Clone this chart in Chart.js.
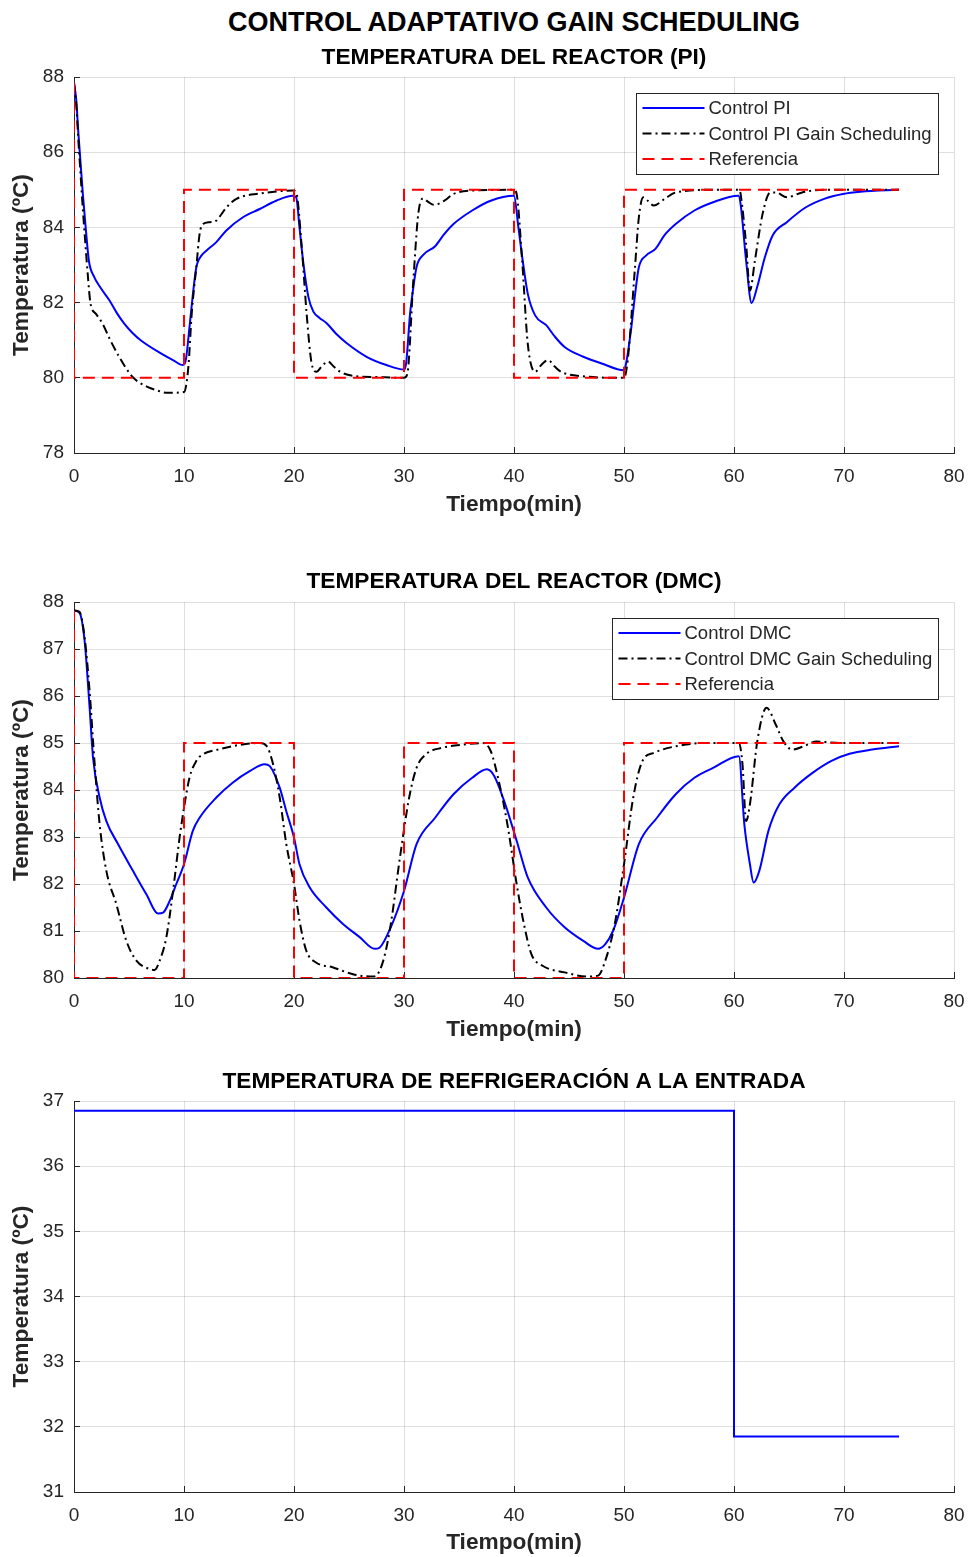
<!DOCTYPE html>
<html><head><meta charset="utf-8">
<script src="https://cdn.jsdelivr.net/npm/chart.js@4"></script>
<style>
html,body{margin:0;padding:0;background:#fff;width:970px;height:1557px;overflow:hidden;position:relative}
canvas{position:absolute;left:0}
#main{position:absolute;left:74px;width:880px;top:8px;text-align:center;font:bold 27px "Liberation Sans",Arial,sans-serif;color:#000;line-height:28px}
</style></head><body>
<div id="main">CONTROL ADAPTATIVO GAIN SCHEDULING</div>
<canvas id="c1" width="970" height="490" style="top:40px"></canvas>
<canvas id="c2" width="970" height="490" style="top:565px"></canvas>
<canvas id="c3" width="970" height="493" style="top:1064px"></canvas>
<script>
const FONT = '"Liberation Sans", Arial, sans-serif';
const xTicks = [0, 10, 20, 30, 40, 50, 60, 70, 80];

// Reference (set point)
const refTime = [0, 0, 10, 10, 20, 20, 30, 30, 40, 40, 50, 50, 75];
const refTemp = [87.85, 80, 80, 85, 85, 80, 80, 85, 85, 80, 80, 85, 85];

// PI control
const piTime = [0,0.2,0.4,0.6,0.8,1.06,1.36,1.82,2.4,3.2,3.9,4.55,5.3,6.06,7.9,9.0,9.9,10.15,10.5,10.8,11.12,11.58,12.03,12.94,13.85,15.36,16.88,18.39,19.9,20.2,20.5,20.85,21.3,21.76,22.3,22.97,23.9,24.8,26.6,28.4,30,30.2,30.55,30.8,31.15,31.75,32.83,33.6,34.5,36.2,37.88,40,40.4,40.8,41.25,41.92,42.93,43.7,44.6,46.3,47.98,50,50.2,50.67,51.0,51.35,52.0,52.86,53.7,54.7,56.4,58.1,60.4,60.6,61.1,61.6,62.1,62.8,63.5,64.8,66.5,68.2,69.9,71.5,75];
const piTemp = [87.85,87.4,86.5,85.7,84.9,84.0,83.1,82.69,82.4,82.07,81.72,81.45,81.2,81.0,80.65,80.47,80.34,80.45,81.35,82.2,82.94,83.25,83.38,83.61,83.92,84.27,84.49,84.71,84.84,84.8,84.0,83.05,82.16,81.76,81.6,81.45,81.15,80.92,80.56,80.34,80.22,80.4,81.7,82.3,82.96,83.27,83.5,83.8,84.09,84.45,84.71,84.84,84.0,83.1,82.24,81.66,81.4,81.1,80.82,80.56,80.38,80.2,80.4,81.35,82.2,82.94,83.25,83.43,83.8,84.09,84.45,84.67,84.84,84.62,83.12,81.99,82.41,83.2,83.78,84.14,84.53,84.76,84.89,84.95,85.0];

// PI gain scheduling
const piGsTime = [0,0.2,0.4,0.6,0.8,1.0,1.25,1.5,2.0,2.58,3.3,4.1,4.7,5.3,5.9,6.67,7.5,8.5,10.0,10.4,10.7,11.12,11.42,11.73,12.33,12.94,13.4,13.85,14.76,16.88,19.9,20.2,20.7,21.15,21.6,22.06,22.5,23.1,23.6,24.2,25.4,27.5,30,30.3,30.85,31.3,31.75,32.2,32.7,33.67,34.5,36.2,40,40.24,40.74,41.25,41.92,42.5,43.1,43.7,44.28,46.3,50,50.34,51.0,51.35,51.75,52.2,52.7,53.7,54.7,58.1,60.5,60.6,61.1,61.45,61.9,62.6,63.3,63.8,64.8,66.2,68.2,75];
const piGsTemp = [87.85,87.3,86.3,85.4,84.5,83.7,82.75,81.98,81.7,81.45,81.0,80.56,80.27,80.03,79.88,79.76,79.67,79.6,79.62,80.3,81.7,82.94,83.83,84.09,84.14,84.18,84.35,84.53,84.76,84.9,84.98,84.93,83.49,81.7,80.39,80.16,80.3,80.43,80.3,80.16,80.05,80.02,80.0,80.1,82.6,84.37,84.77,84.68,84.6,84.71,84.89,84.98,85.0,84.89,83.12,80.91,80.16,80.35,80.47,80.3,80.16,80.04,80.0,80.47,82.94,84.27,84.8,84.7,84.58,84.76,84.93,85.0,85.0,84.89,83.56,82.32,83.12,84.36,84.93,84.93,84.8,84.93,85.0,85.0];

// DMC control
const dmcTime = [0,0.5,0.97,1.42,1.73,2.33,2.94,4.0,5.36,6.58,7.64,8.1,8.7,9.3,10.0,10.8,11.42,12.94,14.45,15.97,17.33,17.8,18.7,19.3,20.0,20.5,21.42,22.94,24.45,25.97,27.33,27.8,28.8,30.0,31.14,32.83,34.5,36.2,37.54,38.2,39.2,40.24,41.25,42.93,44.6,46.3,47.64,48.3,49.0,50.0,51.35,53.0,54.7,56.4,58.1,60.44,60.94,61.45,61.78,62.3,63.13,64.14,65.5,67.17,68.86,70.5,72.56,75];
const dmcTemp = [87.82,87.77,87.16,85.75,84.69,83.84,83.34,82.85,82.28,81.78,81.37,81.39,81.64,82.0,82.42,83.13,83.41,83.84,84.16,84.4,84.55,84.51,84.05,83.55,82.99,82.42,81.93,81.5,81.15,80.87,80.62,80.65,81.08,81.85,82.85,83.41,83.91,84.26,84.44,84.3,83.7,82.92,82.14,81.5,81.08,80.79,80.62,80.72,81.0,81.71,82.85,83.41,83.91,84.26,84.47,84.72,83.27,82.42,82.03,82.28,83.13,83.7,84.05,84.37,84.62,84.77,84.86,84.93];

// DMC gain scheduling
const dmcGsTime = [0,0.5,0.97,1.42,1.88,2.33,2.94,3.85,4.76,5.67,6.88,7.33,7.79,8.39,9.0,9.6,10.0,10.5,11.12,11.73,13.24,15.06,16.88,17.5,18.1,18.7,19.3,20.0,20.5,21.12,22.0,23.5,25.36,27.2,27.6,28.2,28.8,29.63,30.47,31.14,31.99,33.5,35.5,37.2,37.88,38.55,39.4,40.24,40.9,41.58,42.6,44.6,46.6,47.64,48.3,49.16,50.0,50.84,51.68,52.7,54.7,57.4,60.44,60.77,61.1,61.45,62.12,62.96,63.8,64.48,65.32,66.33,67.5,69.87,75];
const dmcGsTemp = [87.82,87.79,87.24,86.1,84.55,83.27,82.28,81.57,80.79,80.37,80.19,80.17,80.37,80.86,81.85,82.99,83.62,84.26,84.62,84.76,84.87,84.96,85.0,84.94,84.55,83.84,82.85,82.0,81.22,80.58,80.33,80.23,80.08,80.03,80.08,80.44,81.15,82.56,83.84,84.47,84.76,84.9,84.97,85.0,84.83,84.26,83.27,82.0,81.15,80.51,80.26,80.12,80.03,80.05,80.37,81.15,82.42,83.84,84.62,84.79,84.93,85.0,85.0,84.55,83.34,83.7,85.04,85.75,85.39,85.04,84.86,84.93,85.03,85.0,85.0];

// Coolant inlet temperature
const coolTime = [0, 60, 60, 75];
const coolTemp = [36.85, 36.85, 31.85, 31.85];

function pts(t, v) { return t.map((x, i) => ({x: x, y: v[i]})); }

const boxLegend = {
  id: 'boxLegend',
  afterDatasetsDraw(chart, args, opts) {
    if (!opts.show) return;
    const ctx = chart.ctx, ca = chart.chartArea;
    const items = chart.data.datasets.filter(d => d.label);
    ctx.save();
    ctx.font = '18.5px ' + FONT;
    const textW = Math.max(...items.map(d => ctx.measureText(d.label).width));
    const padL = 6.5, sample = 62, gap = 4, padR = 6, rowH = 25.5, padT = 15;
    const w = Math.round(padL + sample + gap + textW + padR);
    const h = 2 * padT + rowH * (items.length - 1);
    const x0 = Math.round(ca.right - 16 - w), y0 = Math.round(ca.top + 16);
    ctx.fillStyle = '#fff';
    ctx.fillRect(x0, y0, w, h);
    ctx.strokeStyle = '#262626'; ctx.lineWidth = 1;
    ctx.strokeRect(x0 + 0.5, y0 + 0.5, w, h);
    items.forEach((d, i) => {
      const y = y0 + padT + i * rowH;
      ctx.beginPath();
      ctx.setLineDash(d.borderDash || []);
      ctx.strokeStyle = d.borderColor; ctx.lineWidth = d.borderWidth;
      ctx.moveTo(x0 + padL, y); ctx.lineTo(x0 + padL + sample, y); ctx.stroke();
      ctx.setLineDash([]);
      ctx.fillStyle = '#262626'; ctx.textBaseline = 'middle'; ctx.textAlign = 'left';
      ctx.fillText(d.label, x0 + padL + sample + gap, y + 1);
    });
    ctx.restore();
  }
};

const GRID = 'rgba(38,38,38,0.15)';

function makeChart(id, cfg) {
  new Chart(document.getElementById(id), {
    type: 'line',
    data: { datasets: cfg.datasets },
    plugins: [boxLegend],
    options: {
      responsive: false, animation: false, devicePixelRatio: 1,
      layout: { padding: { left: 0, right: 16, top: 0, bottom: 0 } },
      elements: { point: { radius: 0 } },
      plugins: {
        legend: { display: false },
        tooltip: { enabled: false },
        title: { display: true, text: cfg.title, fullSize: false, color: '#000',
          font: { family: FONT, size: 22.7, weight: 'bold' },
          padding: { top: cfg.titleTop, bottom: cfg.titleBottom } },
        boxLegend: { show: cfg.legend }
      },
      scales: {
        x: {
          type: 'linear', min: 0, max: 80,
          afterBuildTicks: s => { s.ticks = xTicks.map(v => ({value: v})); },
          afterFit: s => { s.height = cfg.xAxisH; s.paddingLeft = 0; s.paddingRight = 0; },
          ticks: { color: '#262626', font: { family: FONT, size: 19 }, padding: 18, maxRotation: 0 },
          grid: { color: GRID, tickColor: '#262626', tickLength: -6, drawTicks: true },
          border: { color: '#262626', width: 1 },
          title: { display: true, text: 'Tiempo(min)', color: '#262626',
            font: { family: FONT, size: 22.7, weight: 'bold' },
            padding: { top: 0, bottom: cfg.xTitleBottom } }
        },
        y: {
          type: 'linear', min: cfg.yMin, max: cfg.yMax,
          afterBuildTicks: s => { s.ticks = cfg.yTicks.map(v => ({value: v})); },
          afterFit: s => { s.width = 74; },
          ticks: { color: '#262626', font: { family: FONT, size: 19 }, padding: 16 },
          grid: { color: GRID, tickColor: '#262626', tickLength: -6, drawTicks: true },
          border: { color: '#262626', width: 1 },
          title: { display: true, text: 'Temperatura (ºC)', color: '#262626',
            font: { family: FONT, size: 22.7, weight: 'bold' },
            padding: { top: 8, bottom: 0 } }
        }
      }
    }
  });
}

function blueDs(label, t, v) {
  return { label: label, data: pts(t, v), borderColor: '#0000ff', borderWidth: 2,
    cubicInterpolationMode: 'monotone', order: 3 };
}
function blackDs(label, t, v) {
  return { label: label, data: pts(t, v), borderColor: '#000000', borderWidth: 2,
    borderDash: [9, 4, 2, 4], cubicInterpolationMode: 'monotone', order: 2 };
}
function refDs(t, v) {
  return { label: 'Referencia', data: pts(t, v), borderColor: '#ff0000', borderWidth: 2,
    borderDash: [12, 7], tension: 0, order: 1 };
}

makeChart('c1', {
  title: 'TEMPERATURA DEL REACTOR (PI)', titleTop: 4.4, titleBottom: 5.4,
  yMin: 78, yMax: 88, yTicks: [78, 80, 82, 84, 86, 88],
  xAxisH: 77, xTitleBottom: 11.4, legend: true,
  datasets: [blueDs('Control PI', piTime, piTemp),
             blackDs('Control PI Gain Scheduling', piGsTime, piGsTemp),
             refDs(refTime, refTemp)]
});

makeChart('c2', {
  title: 'TEMPERATURA DEL REACTOR (DMC)', titleTop: 3.4, titleBottom: 6.4,
  yMin: 80, yMax: 88, yTicks: [80, 81, 82, 83, 84, 85, 86, 87, 88],
  xAxisH: 77, xTitleBottom: 11.4, legend: true,
  datasets: [blueDs('Control DMC', dmcTime, dmcTemp),
             blackDs('Control DMC Gain Scheduling', dmcGsTime, dmcGsTemp),
             refDs(refTime, refTemp.map((v, i) => i === 0 ? 87.82 : v))]
});

makeChart('c3', {
  title: 'TEMPERATURA DE REFRIGERACIÓN A LA ENTRADA', titleTop: 4.4, titleBottom: 5.4,
  yMin: 31, yMax: 37, yTicks: [31, 32, 33, 34, 35, 36, 37],
  xAxisH: 65, xTitleBottom: 0.4, legend: false,
  datasets: [{ label: '', data: pts(coolTime, coolTemp), borderColor: '#0000ff',
               borderWidth: 2, tension: 0 }]
});
</script>
</body></html>
